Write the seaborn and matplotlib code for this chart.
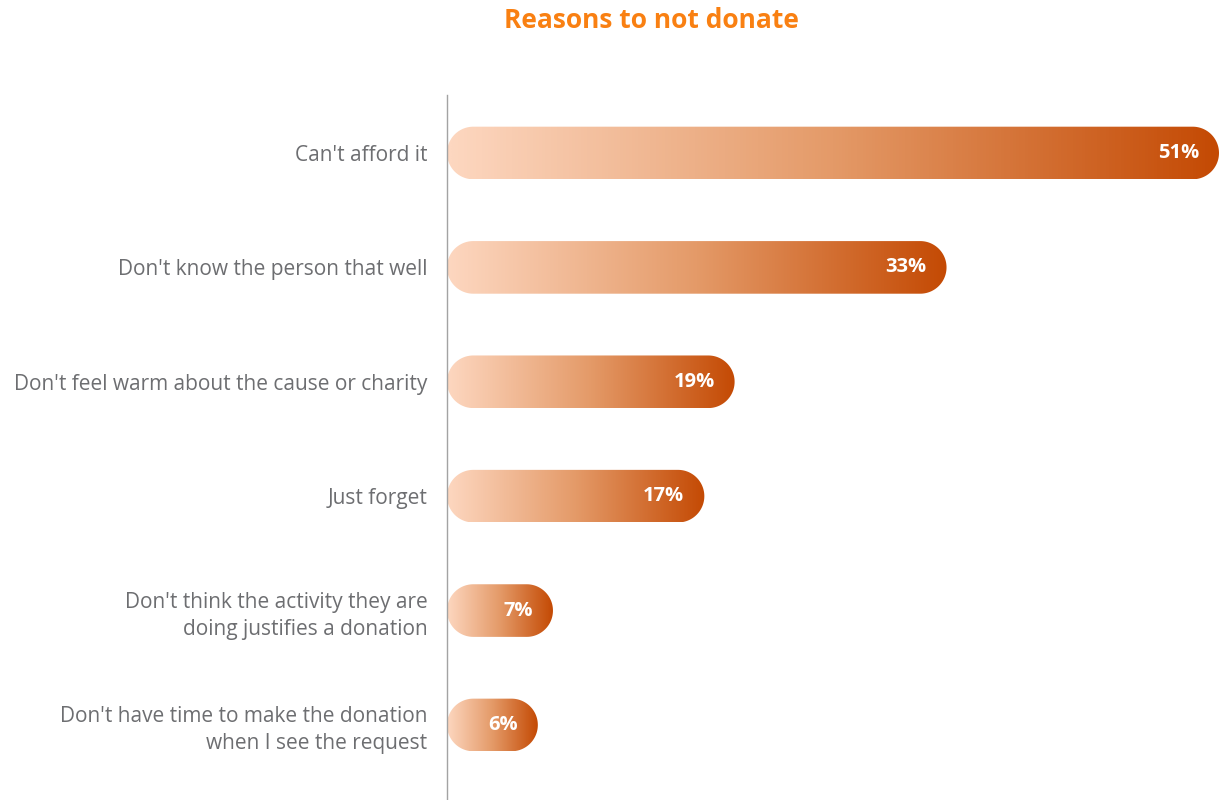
import numpy as np
import pandas as pd
import matplotlib
matplotlib.use("Agg")
import matplotlib.pyplot as plt
import seaborn as sns
from matplotlib.patches import Polygon
from matplotlib.colors import LinearSegmentedColormap

# Survey data
categories = [
    "Can't afford it",
    "Don't know the person that well",
    "Don't feel warm about the cause or charity",
    "Just forget",
    "Don't think the activity they are\ndoing justifies a donation",
    "Don't have time to make the donation\nwhen I see the request",
]
values = [51, 33, 19, 17, 7, 6]
value_labels = [f"{v}%" for v in values]
title = "Reasons to not donate"

sns.set_style("white")
plt.rcParams["font.family"] = ["Open Sans", "DejaVu Sans"]

W, H = 1219, 800
fig = plt.figure(figsize=(W / 100, H / 100), dpi=100)
ax = fig.add_axes([447 / W, 0, 1 - 447 / W, 705 / H])

df = pd.DataFrame({"reason": categories, "pct": values})
sns.barplot(data=df, x="pct", y="reason", orient="h", width=0.46,
            color="#e08a50", ax=ax)

XMAX = 51.0
YLIM = (5.656, -0.507)
ax.set_xlim(0, XMAX)
ax.set_ylim(*YLIM)

# pixel scale of data units, used to keep the bar ends perfectly round
px_x = ax.bbox.width / XMAX
px_y = ax.bbox.height / abs(YLIM[0] - YLIM[1])


def pill(x0, y0, w, h, n=60):
    """Stadium outline in data coordinates with semicircular ends."""
    ry = h / 2
    rx = ry * px_y / px_x
    yc = y0 + h / 2
    rx = min(rx, w / 2)
    t_right = np.linspace(-np.pi / 2, np.pi / 2, n)
    t_left = np.linspace(np.pi / 2, 3 * np.pi / 2, n)
    right = np.column_stack([x0 + w - rx + rx * np.cos(t_right), yc + ry * np.sin(t_right)])
    left = np.column_stack([x0 + rx + rx * np.cos(t_left), yc + ry * np.sin(t_left)])
    return np.vstack([right, left])


cmap = LinearSegmentedColormap.from_list("peach", ["#FDD7C0", "#E49A68", "#C44A04"])
grad = np.linspace(0, 1, 256).reshape(1, -1)

for p in list(ax.patches):
    x0, y0, w, h = p.get_x(), p.get_y(), p.get_width(), p.get_height()
    p.set_visible(False)
    shape = Polygon(pill(x0, y0, w, h), closed=True, facecolor="none",
                    edgecolor="none", transform=ax.transData)
    ax.add_patch(shape)
    im = ax.imshow(grad, extent=[x0, x0 + w, y0 + h, y0], cmap=cmap,
                   aspect="auto", interpolation="bicubic", zorder=2)
    im.set_clip_path(shape)

ax.set_xlim(0, XMAX)
ax.set_ylim(*YLIM)

for i, (v, lab) in enumerate(zip(values, value_labels)):
    ax.annotate(lab, xy=(v, i), xytext=(-20, 0), textcoords="offset pixels",
                ha="right", va="center", color="white", fontweight="bold",
                fontsize=14.5, zorder=3)

ax.set_xlabel("")
ax.set_ylabel("")
ax.set_xticks([])
ax.tick_params(axis="y", length=0, pad=14, labelsize=15, labelcolor="#6D6E71")
for t in ax.get_yticklabels():
    t.set_linespacing(1.35)

for s in ["top", "right", "bottom"]:
    ax.spines[s].set_visible(False)
ax.spines["left"].set_color("#A3A3A3")
ax.spines["left"].set_linewidth(1.0)
ax.spines["left"].set_zorder(4)

fig.text(651 / W, 1 - 20 / H, title, ha="center", va="center",
         color="#F98012", fontweight="bold", fontsize=19)

fig.savefig("out.png", dpi=100)
